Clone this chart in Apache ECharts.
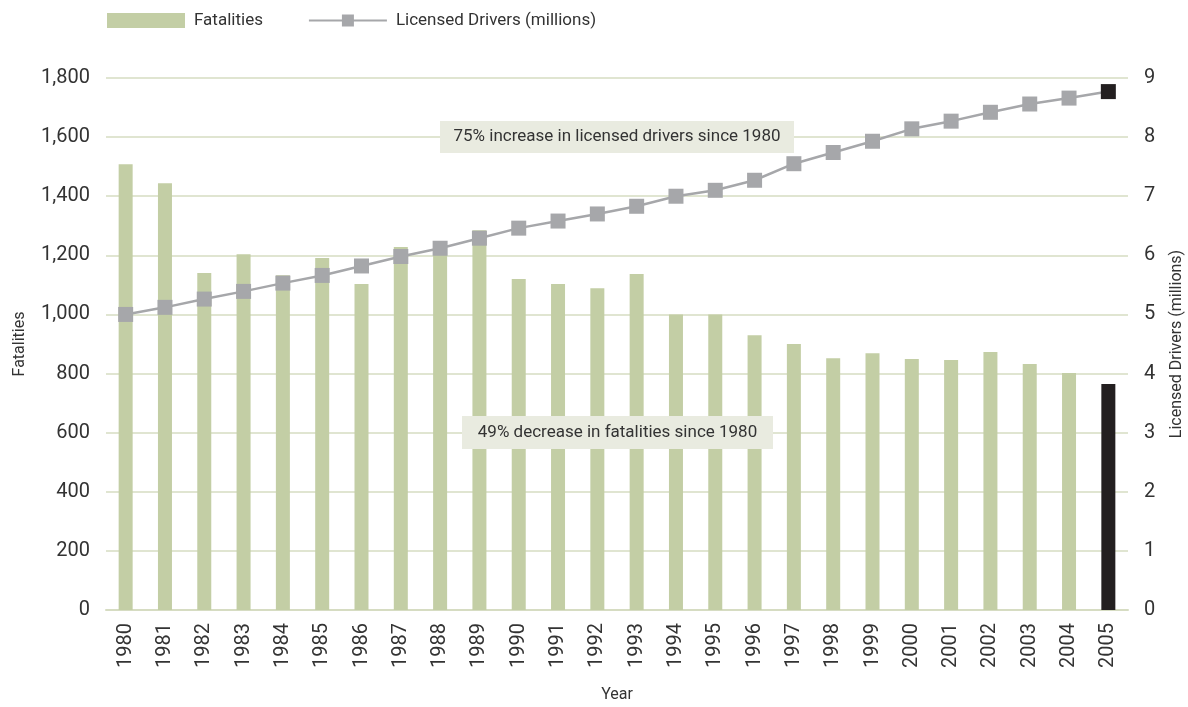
<!DOCTYPE html>
<html>
<head>
<meta charset="utf-8">
<script src="https://cdn.jsdelivr.net/npm/echarts@6/dist/echarts.min.js"></script>
<style>
  html, body { margin: 0; padding: 0; background: #ffffff; }
  #chart { width: 1188px; height: 707px; }
</style>
</head>
<body>
<div id="chart"></div>
<script>
// Years on the category axis
const years = ['1980','1981','1982','1983','1984','1985','1986','1987','1988','1989',
               '1990','1991','1992','1993','1994','1995','1996','1997','1998','1999',
               '2000','2001','2002','2003','2004','2005'];

// Fatalities per year (left axis)
const fatalities = [1508, 1444, 1140, 1204, 1133, 1191, 1103, 1228, 1225, 1285,
                    1120, 1103, 1089, 1137, 1000, 1000, 930, 900, 852, 869,
                    849, 846, 873, 832, 802, 765];

// Licensed drivers in millions (right axis)
const drivers = [5.00, 5.12, 5.26, 5.39, 5.53, 5.66, 5.82, 5.98, 6.12, 6.29,
                 6.46, 6.58, 6.70, 6.83, 7.00, 7.10, 7.27, 7.55, 7.74, 7.93,
                 8.14, 8.27, 8.42, 8.56, 8.66, 8.77];

// Call-out texts
const noteDrivers = '75% increase in licensed drivers since 1980';
const noteFatalities = '49% decrease in fatalities since 1980';

const FONT = 'Roboto, "Liberation Sans", sans-serif';
const TEXT = '#333333';
const GRID = '#d6dcc2';
const BAR = '#c3cea5';
const LINE = '#a6a7aa';
const HIGHLIGHT = '#231f20';
const NOTE_BG = '#e9ebe0';

const lastIdx = years.length - 1;

const barData = fatalities.map((v, i) =>
  i === lastIdx ? { value: v, itemStyle: { color: HIGHLIGHT } } : v);
const lineData = drivers.map((v, i) =>
  i === lastIdx ? { value: v, itemStyle: { color: HIGHLIGHT } } : v);

const chart = echarts.init(document.getElementById('chart'), null, { renderer: 'canvas' });

chart.setOption({
  animation: false,
  textStyle: { fontFamily: FONT },
  legend: {
    left: 107,
    top: 12,
    padding: 0,
    itemWidth: 78,
    itemHeight: 15,
    itemGap: 45,
    textStyle: { fontFamily: FONT, fontSize: 17, color: TEXT, padding: [0, 0, 0, 4] },
    data: [
      { name: 'Fatalities', icon: 'rect' },
      { name: 'Licensed Drivers (millions)' }
    ]
  },
  grid: { left: 106, right: 60, top: 78, bottom: 97, outerBoundsMode: 'none', containLabel: false },
  xAxis: {
    type: 'category',
    data: years,
    name: 'Year',
    nameLocation: 'middle',
    nameGap: 77,
    nameTextStyle: { fontFamily: FONT, fontSize: 16, color: TEXT },
    axisLine: { lineStyle: { color: GRID, width: 2 } },
    axisTick: { show: false },
    axisLabel: { rotate: 90, margin: 13, fontFamily: FONT, fontSize: 20, color: TEXT }
  },
  yAxis: [
    {
      type: 'value',
      min: 0,
      max: 1800,
      interval: 200,
      name: 'Fatalities',
      nameLocation: 'middle',
      nameRotate: 90,
      nameGap: 78,
      nameTextStyle: { fontFamily: FONT, fontSize: 16, color: TEXT },
      axisLine: { show: false },
      axisTick: { show: false },
      axisLabel: {
        margin: 16, fontFamily: FONT, fontSize: 20, color: TEXT,
        formatter: v => v.toLocaleString('en-US')
      },
      splitLine: { lineStyle: { color: GRID, width: 1.5 } }
    },
    {
      type: 'value',
      min: 0,
      max: 9,
      interval: 1,
      position: 'right',
      name: 'Licensed Drivers (millions)',
      nameLocation: 'middle',
      nameRotate: 90,
      nameGap: 41,
      nameTextStyle: { fontFamily: FONT, fontSize: 16, color: TEXT },
      axisLine: { show: false },
      axisTick: { show: false },
      axisLabel: { margin: 16, fontFamily: FONT, fontSize: 20, color: TEXT },
      splitLine: { show: false }
    }
  ],
  series: [
    {
      name: 'Fatalities',
      type: 'bar',
      yAxisIndex: 0,
      data: barData,
      barWidth: 14,
      itemStyle: { color: BAR },
      z: 2
    },
    {
      name: 'Licensed Drivers (millions)',
      type: 'line',
      yAxisIndex: 1,
      data: lineData,
      symbol: 'rect',
      symbolSize: 15,
      showSymbol: true,
      lineStyle: { color: LINE, width: 2.5 },
      itemStyle: { color: LINE },
      z: 4
    }
  ],
  graphic: [
    {
      type: 'group',
      left: 440,
      top: 121,
      z: 100,
      children: [
        { type: 'rect', z: 100, shape: { x: 0, y: 0, width: 354, height: 32 },
          style: { fill: NOTE_BG } },
        { type: 'text', z: 101, x: 177, y: 16,
          style: { text: noteDrivers, fill: TEXT, font: '17px ' + FONT,
                   align: 'center', verticalAlign: 'middle' } }
      ]
    },
    {
      type: 'group',
      left: 462,
      top: 416,
      z: 100,
      children: [
        { type: 'rect', z: 100, shape: { x: 0, y: 0, width: 311, height: 33 },
          style: { fill: NOTE_BG } },
        { type: 'text', z: 101, x: 155.5, y: 16.5,
          style: { text: noteFatalities, fill: TEXT, font: '17px ' + FONT,
                   align: 'center', verticalAlign: 'middle' } }
      ]
    }
  ]
});
</script>
</body>
</html>
